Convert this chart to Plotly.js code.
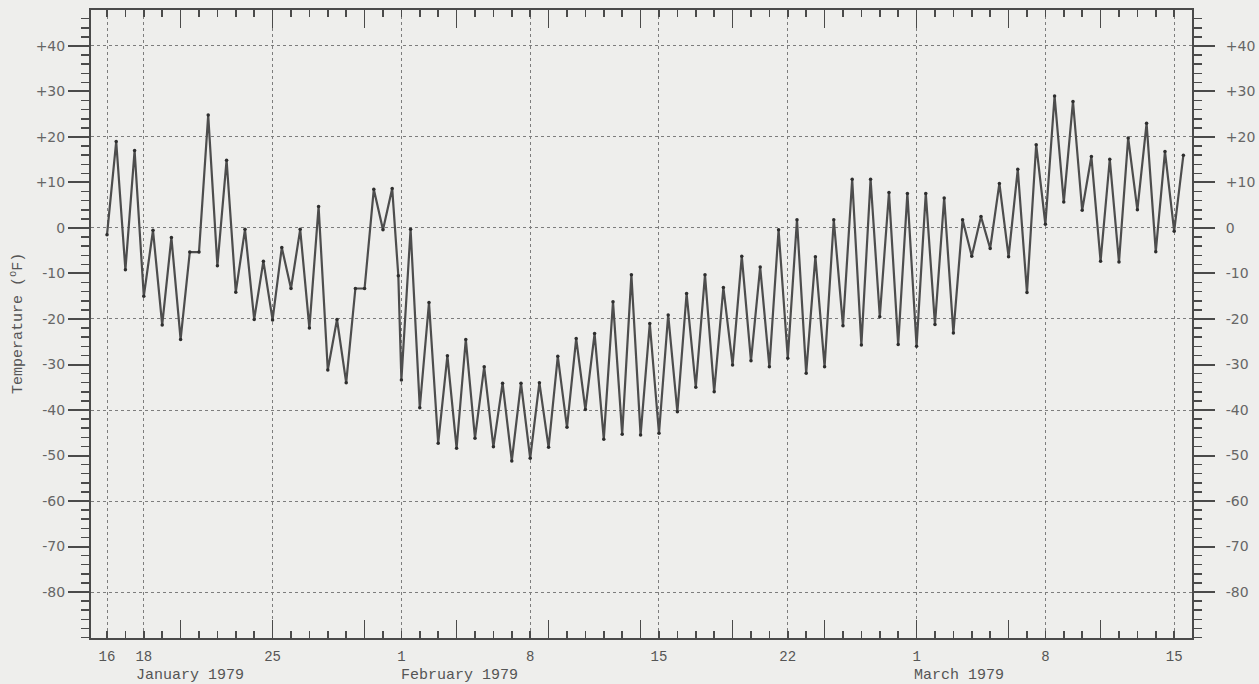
<!DOCTYPE html>
<html>
<head>
<meta charset="utf-8">
<script src="https://cdn.plot.ly/plotly-3.0.1.min.js"></script>
<style>
  html, body { margin: 0; padding: 0; background: #eeeeec; }
  #chart { width: 1259px; height: 684px; }
</style>
</head>
<body>
<div id="chart"></div>
<script>
// Observation times (twice daily, one extra reading on Jan 31)
const times = [
  "1979-01-16 00:00","1979-01-16 12:00","1979-01-17 00:00","1979-01-17 12:00",
  "1979-01-18 00:00","1979-01-18 12:00","1979-01-19 00:00","1979-01-19 12:00",
  "1979-01-20 00:00","1979-01-20 12:00","1979-01-21 00:00","1979-01-21 12:00",
  "1979-01-22 00:00","1979-01-22 12:00","1979-01-23 00:00","1979-01-23 12:00",
  "1979-01-24 00:00","1979-01-24 12:00","1979-01-25 00:00","1979-01-25 12:00",
  "1979-01-26 00:00","1979-01-26 12:00","1979-01-27 00:00","1979-01-27 12:00",
  "1979-01-28 00:00","1979-01-28 12:00","1979-01-29 00:00","1979-01-29 12:00",
  "1979-01-30 00:00","1979-01-30 12:00","1979-01-31 00:00","1979-01-31 12:00",
  "1979-01-31 20:00",
  "1979-02-01 00:00","1979-02-01 12:00","1979-02-02 00:00","1979-02-02 12:00",
  "1979-02-03 00:00","1979-02-03 12:00","1979-02-04 00:00","1979-02-04 12:00",
  "1979-02-05 00:00","1979-02-05 12:00","1979-02-06 00:00","1979-02-06 12:00",
  "1979-02-07 00:00","1979-02-07 12:00","1979-02-08 00:00","1979-02-08 12:00",
  "1979-02-09 00:00","1979-02-09 12:00","1979-02-10 00:00","1979-02-10 12:00",
  "1979-02-11 00:00","1979-02-11 12:00","1979-02-12 00:00","1979-02-12 12:00",
  "1979-02-13 00:00","1979-02-13 12:00","1979-02-14 00:00","1979-02-14 12:00",
  "1979-02-15 00:00","1979-02-15 12:00","1979-02-16 00:00","1979-02-16 12:00",
  "1979-02-17 00:00","1979-02-17 12:00","1979-02-18 00:00","1979-02-18 12:00",
  "1979-02-19 00:00","1979-02-19 12:00","1979-02-20 00:00","1979-02-20 12:00",
  "1979-02-21 00:00","1979-02-21 12:00","1979-02-22 00:00","1979-02-22 12:00",
  "1979-02-23 00:00","1979-02-23 12:00","1979-02-24 00:00","1979-02-24 12:00",
  "1979-02-25 00:00","1979-02-25 12:00","1979-02-26 00:00","1979-02-26 12:00",
  "1979-02-27 00:00","1979-02-27 12:00","1979-02-28 00:00","1979-02-28 12:00",
  "1979-03-01 00:00","1979-03-01 12:00","1979-03-02 00:00","1979-03-02 12:00",
  "1979-03-03 00:00","1979-03-03 12:00","1979-03-04 00:00","1979-03-04 12:00",
  "1979-03-05 00:00","1979-03-05 12:00","1979-03-06 00:00","1979-03-06 12:00",
  "1979-03-07 00:00","1979-03-07 12:00","1979-03-08 00:00","1979-03-08 12:00",
  "1979-03-09 00:00","1979-03-09 12:00","1979-03-10 00:00","1979-03-10 12:00",
  "1979-03-11 00:00","1979-03-11 12:00","1979-03-12 00:00","1979-03-12 12:00",
  "1979-03-13 00:00","1979-03-13 12:00","1979-03-14 00:00","1979-03-14 12:00",
  "1979-03-15 00:00","1979-03-15 12:00"
];

// Temperatures (deg F)
const tempJan = [
  -1.5, 19, -9.2, 17, -15, -0.5, -21.3, -2.1, -24.5, -5.3, -5.3, 24.8,
  -8.3, 14.9, -14.1, -0.3, -20.1, -7.3, -20.2, -4.3, -13.3, -0.3, -22, 4.7,
  -31.2, -20.1, -34, -13.3, -13.3, 8.5, -0.4, 8.7, -10.5
];
const tempFeb = [
  -33.4, -0.3, -39.5, -16.4, -47.3, -28.1, -48.4, -24.5, -46.2, -30.5,
  -48.1, -34.1, -51.2, -34.1, -50.6, -34, -48.2, -28.2, -43.8, -24.3,
  -39.9, -23.2, -46.4, -16.2, -45.3, -10.3, -45.5, -21, -45.1, -19.1,
  -40.4, -14.4, -35, -10.3, -36, -13.1, -30.1, -6.2, -29.2, -8.6,
  -30.5, -0.4, -28.6, 1.8, -31.9, -6.3, -30.5, 1.8, -21.5, 10.7,
  -25.7, 10.7, -19.5, 7.8, -25.6, 7.6
];
const tempMar = [
  -26, 7.6, -21.2, 6.6, -23.1, 1.8, -6.2, 2.5, -4.5, 9.8, -6.3, 12.9,
  -14.2, 18.3, 0.8, 29, 5.7, 27.8, 3.9, 15.7, -7.3, 15.1, -7.5, 19.8,
  4, 23, -5.2, 16.8, -0.7, 16
];
const temps = tempJan.concat(tempFeb, tempMar);

// Axis labels and tick positions
const dayTickVals = ["1979-01-16","1979-01-18","1979-01-25","1979-02-01","1979-02-08",
                     "1979-02-15","1979-02-22","1979-03-01","1979-03-08","1979-03-15"];
const dayTickText = ["16","18","25","1","8","15","22","1","8","15"];
const longTickStart = "1979-01-20";   // long ticks every 5 days from here
const monthLabels = ["January 1979","February 1979","March 1979"];
const monthPos = ["1979-01-20 12:00","1979-02-04 04:00","1979-03-03 07:00"];
const yTickVals = [40,30,20,10,0,-10,-20,-30,-40,-50,-60,-70,-80];
const yTickText = ["+40","+30","+20","+10","0","-10","-20","-30","-40","-50","-60","-70","-80"];
const yGridVals = [40,20,0,-20,-40,-60,-80];

const ink = '#4a4a4a';
const xRange = ['1979-01-15 03:08','1979-03-15 23:15'];
const yRange = [-90.1, 47.9];
const mono = 'Liberation Mono, Courier New, monospace';
const DAY = 86400000;

const data = [
  {
    x: times, y: temps, type: 'scatter', mode: 'lines+markers',
    line: {color: '#4d4d4d', width: 2.2},
    marker: {color: '#2e2e2e', size: 3.5},
    hoverinfo: 'x+y'
  },
  {x: [], y: [], xaxis: 'x', yaxis: 'y2', type: 'scatter', mode: 'lines'},
  {x: [], y: [], xaxis: 'x', yaxis: 'y3', type: 'scatter', mode: 'lines'},
  {x: [], y: [], xaxis: 'x2', yaxis: 'y', type: 'scatter', mode: 'lines'},
  {x: [], y: [], xaxis: 'x3', yaxis: 'y', type: 'scatter', mode: 'lines'}
];

const yLabelAxis = {
  range: yRange, tickmode: 'array', tickvals: yTickVals, ticktext: yTickText,
  ticks: 'outside', ticklen: 22, tickwidth: 2, tickcolor: ink,
  minor: {tickmode: 'linear', tick0: 0, dtick: 2, ticks: 'outside', ticklen: 9,
          tickwidth: 1.5, tickcolor: ink, showgrid: false},
  showgrid: false, zeroline: false, showline: false,
  tickfont: {family: 'DejaVu Sans, sans-serif', size: 14, color: '#666'},
  overlaying: 'y'
};

// overlay axis that only carries minor ticks
const minorTickAxis = (t0, dt, len) => ({
  type: 'date', range: xRange, overlaying: 'x', side: 'bottom',
  tickmode: 'array', tickvals: ['1978-12-01'], ticks: '',
  minor: {tickmode: 'linear', tick0: t0, dtick: dt, ticks: 'inside',
          ticklen: len, tickwidth: 1.6, tickcolor: ink, showgrid: false},
  showticklabels: false, showgrid: false, zeroline: false,
  showline: true, linecolor: ink, linewidth: 2, mirror: 'ticks'
});

const layout = {
  width: 1259, height: 684,
  margin: {l: 91, r: 67, t: 10, b: 46},
  paper_bgcolor: '#eeeeec', plot_bgcolor: '#eeeeec',
  showlegend: false,
  xaxis: {
    type: 'date', range: xRange,
    tickmode: 'array', tickvals: dayTickVals, ticktext: dayTickText,
    ticks: '', showgrid: true, gridcolor: '#7d7d7d', griddash: 'dot', gridwidth: 1,
    minor: {tickmode: 'linear', tick0: longTickStart, dtick: 5 * DAY, ticks: 'inside',
            ticklen: 18, tickwidth: 1.6, tickcolor: ink, showgrid: false},
    showline: true, linecolor: ink, linewidth: 2, mirror: 'allticks',
    zeroline: false, ticklabelstandoff: 4,
    tickfont: {family: mono, size: 14, color: '#555'}
  },
  xaxis2: minorTickAxis('1979-01-16', DAY, 7),
  xaxis3: minorTickAxis(longTickStart, 5 * DAY, 18),
  yaxis: {
    range: yRange, tickmode: 'array', tickvals: yGridVals,
    showticklabels: false, ticks: '',
    showgrid: true, gridcolor: '#7d7d7d', griddash: 'dot', gridwidth: 1,
    zeroline: false, showline: true, linecolor: ink, linewidth: 2, mirror: true
  },
  yaxis2: Object.assign({}, yLabelAxis, {side: 'left'}),
  yaxis3: Object.assign({}, yLabelAxis, {side: 'right', ticklabelstandoff: 8}),
  annotations: [
    {
      text: 'Temperature (<sup>o</sup>F)', xref: 'paper', yref: 'paper',
      x: -0.0672, y: 0.5, xanchor: 'center', yanchor: 'middle', textangle: -90,
      showarrow: false, font: {family: mono, size: 15, color: '#555'}
    }
  ].concat(monthLabels.map((t, i) => ({
    text: t, xref: 'x', yref: 'paper', x: monthPos[i], y: -0.059,
    xanchor: 'center', yanchor: 'middle', showarrow: false,
    font: {family: mono, size: 15, color: '#555'}
  })))
};

Plotly.newPlot('chart', data, layout, {displayModeBar: false, staticPlot: true});
</script>
</body>
</html>
